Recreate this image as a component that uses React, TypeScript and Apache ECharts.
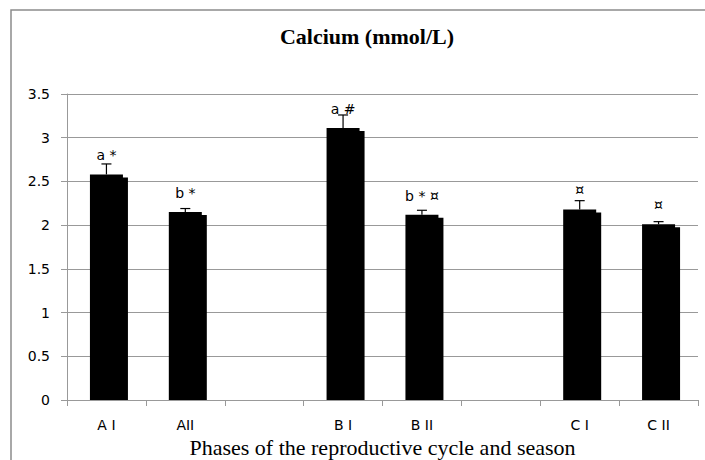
import React, { useEffect, useRef } from "react";
import * as echarts from "echarts";

const categories = ["A I", "AII", "", "B I", "B II", "", "C I", "C II"];
const means: (number | null)[] = [2.58, 2.15, null, 3.11, 2.12, null, 2.18, 2.01];
const errors: (number | null)[] = [0.12, 0.04, null, 0.15, 0.05, null, 0.1, 0.03];
const markLabels = ["a *", "b *", "", "a #", "b * ¤", "", "¤", "¤"];
const yTicks = { min: 0, max: 3.5, interval: 0.5 };

const BAR_W = 33;
const SANS = "DejaVu Sans";

export default function App() {
  const ref = useRef<HTMLDivElement>(null);
  useEffect(() => {
    if (!ref.current) return;
    const chart = echarts.init(ref.current, undefined, { renderer: "svg" });
    const shadowData = means.map((v, i) => (v == null ? [i, null] : [i, v]));
    const errData = means.map((v, i) =>
      v == null || errors[i] == null ? [i, null, null] : [i, v, errors[i]]
    );
    chart.setOption({
      animation: false,
      backgroundColor: "#fff",
      title: {
        text: "Calcium (mmol/L)",
        left: 362,
        textAlign: "center",
        top: 20,
        textStyle: {
          fontFamily: "Liberation Serif",
          fontWeight: "bold",
          fontSize: 22,
          color: "#000",
        },
      },
      graphic: [
        {
          type: "rect",
          shape: { x: 11, y: 10, width: 720, height: 480 },
          style: { fill: "none", stroke: "#8c8c8c", lineWidth: 1.5 },
          silent: true,
        },
      ],
      grid: {
        left: 67,
        right: 7,
        top: 94,
        bottom: 60,
        containLabel: false,
        outerBoundsMode: "none",
      },
      xAxis: {
        type: "category",
        data: categories,
        axisLine: { lineStyle: { color: "#999", width: 1 } },
        axisTick: { show: true, interval: 0, length: 6, lineStyle: { color: "#999" } },
        axisLabel: {
          interval: 0,
          margin: 19,
          color: "#000",
          fontFamily: SANS,
          fontSize: 14,
          lineHeight: 12,
        },
        name: "Phases of the reproductive cycle and season",
        nameLocation: "middle",
        nameGap: 39,
        nameMoveOverlap: false,
        nameTextStyle: {
          fontFamily: "Liberation Serif",
          fontSize: 22,
          lineHeight: 16,
          color: "#000",
        },
      },
      yAxis: {
        type: "value",
        min: yTicks.min,
        max: yTicks.max,
        interval: yTicks.interval,
        axisLine: { show: true, lineStyle: { color: "#999", width: 1 } },
        axisTick: { show: true, length: 6, lineStyle: { color: "#999" } },
        splitLine: { lineStyle: { color: "#999", width: 1 } },
        axisLabel: {
          margin: 17,
          color: "#000",
          fontFamily: SANS,
          fontSize: 14,
        },
      },
      series: [
        {
          type: "custom",
          z: 1,
          data: shadowData,
          renderItem: (params: any, api: any) => {
            const v = api.value(1);
            if (v == null || isNaN(v)) return null;
            const top = api.coord([api.value(0), v]);
            const base = api.coord([api.value(0), 0]);
            return {
              type: "rect",
              shape: {
                x: top[0] - BAR_W / 2 + 5,
                y: top[1] + 3,
                width: BAR_W,
                height: base[1] - top[1] - 3,
              },
              style: { fill: "#000" },
            };
          },
        },
        {
          type: "bar",
          z: 2,
          data: means.map((v) => (v == null ? "-" : v)),
          barWidth: BAR_W,
          itemStyle: { color: "#000" },
          label: {
            show: true,
            position: "top",
            distance: 12,
            color: "#000",
            fontFamily: SANS,
            fontSize: 14,
            formatter: (p: any) => markLabels[p.dataIndex] || "",
          },
        },
        {
          type: "custom",
          z: 3,
          data: errData,
          renderItem: (params: any, api: any) => {
            const v = api.value(1);
            const e = api.value(2);
            if (v == null || isNaN(v) || e == null || isNaN(e)) return null;
            const top = api.coord([api.value(0), v + e]);
            const bot = api.coord([api.value(0), v]);
            return {
              type: "group",
              children: [
                {
                  type: "line",
                  shape: { x1: top[0], y1: top[1], x2: bot[0], y2: bot[1] },
                  style: { stroke: "#000", lineWidth: 1.2 },
                },
                {
                  type: "line",
                  shape: { x1: top[0] - 5, y1: top[1], x2: top[0] + 5, y2: top[1] },
                  style: { stroke: "#000", lineWidth: 1.2 },
                },
              ],
            };
          },
        },
      ],
    });
    return () => chart.dispose();
  }, []);
  return (
    <div
      ref={ref}
      style={{ position: "fixed", left: 0, top: 0, width: 705, height: 460 }}
    />
  );
}
